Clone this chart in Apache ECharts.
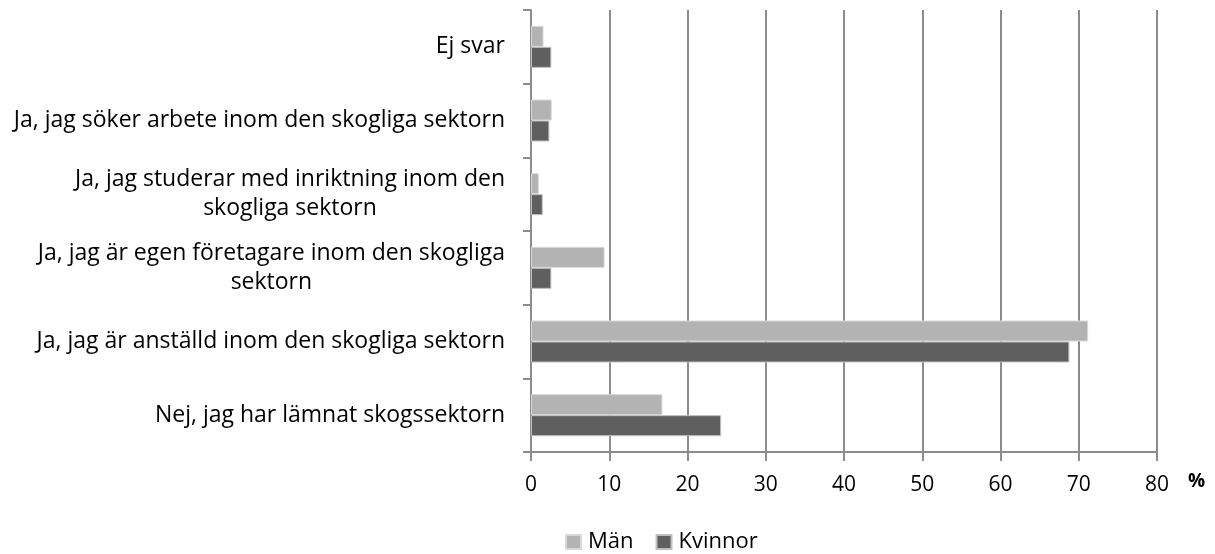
<!DOCTYPE html>
<html>
<head>
<meta charset="utf-8">
<script src="https://cdn.jsdelivr.net/npm/echarts@6/dist/echarts.min.js"></script>
<style>
  html, body { margin: 0; padding: 0; background: #fff; }
  #chart { width: 1215px; height: 554px; }
</style>
</head>
<body>
<div id="chart"></div>
<script>
// categories, bottom to top (same order as y axis)
var categories = [
  'Nej, jag har lämnat skogssektorn',
  'Ja, jag är anställd inom den skogliga sektorn',
  'Ja, jag är egen företagare inom den skogliga\nsektorn',
  'Ja, jag studerar med inriktning inom den\nskogliga sektorn',
  'Ja, jag söker arbete inom den skogliga sektorn',
  'Ej svar'
];
var man = [16.8, 71.2, 9.4, 1.0, 2.65, 1.6];
var kvinnor = [24.3, 68.8, 2.6, 1.5, 2.35, 2.6];
var xTicks = [0, 10, 20, 30, 40, 50, 60, 70, 80];

var font = 'Open Sans';

var myChart = echarts.init(document.getElementById('chart'));
var option = {
    animation: false,
    textStyle: { fontFamily: font },
    legend: {
        bottom: -4,
        left: 560,
        itemWidth: 15,
        itemHeight: 14,
        itemGap: 22,
        icon: 'rect',
        textStyle: { fontSize: 22, color: '#000', fontFamily: font, padding: [0, 0, 0, 2] },
        data: ['Män', 'Kvinnor']
    },
    grid: {
        left: 531,
        right: 58,
        top: 10,
        bottom: 102
    },
    xAxis: {
        type: 'value',
        min: xTicks[0],
        max: xTicks[xTicks.length - 1],
        interval: 10,
        name: '%',
        nameLocation: 'end',
        nameGap: 31,
        nameTextStyle: { fontSize: 19, fontWeight: 'bold', color: '#000', verticalAlign: 'top', padding: [20, 0, 0, 0] },
        axisLine: { show: true, lineStyle: { color: '#8c8c8c', width: 2 } },
        axisTick: { show: true, length: 9, lineStyle: { color: '#8c8c8c', width: 2 } },
        axisLabel: { fontSize: 21, color: '#000', margin: 23 },
        splitLine: { show: true, lineStyle: { color: '#8c8c8c', width: 2 } }
    },
    yAxis: {
        type: 'category',
        data: categories,
        axisLine: { show: true, lineStyle: { color: '#8c8c8c', width: 2 } },
        axisTick: { show: true, length: 8, lineStyle: { color: '#8c8c8c', width: 2 } },
        axisLabel: {
            margin: 26,
            color: '#000',
            fontSize: 23,
            lineHeight: 29,
            formatter: function (v) {
                return v.split('\n').map(function (l) { return '{c|' + l + '}'; }).join('\n');
            },
            rich: { c: { align: 'center', fontSize: 23, lineHeight: 29, color: '#000', fontFamily: font } }
        }
    },
    series: [
        {
            name: 'Män',
            type: 'bar',
            data: man,
            barGap: '0%',
            barCategoryGap: '43%',
            itemStyle: { color: '#b3b3b3', borderColor: '#d9d9d9', borderWidth: 1 }
        },
        {
            name: 'Kvinnor',
            type: 'bar',
            data: kvinnor,
            itemStyle: { color: '#5f5f5f', borderColor: '#bfbfbf', borderWidth: 1 }
        }
    ]
};
myChart.setOption(option);
</script>
</body>
</html>
